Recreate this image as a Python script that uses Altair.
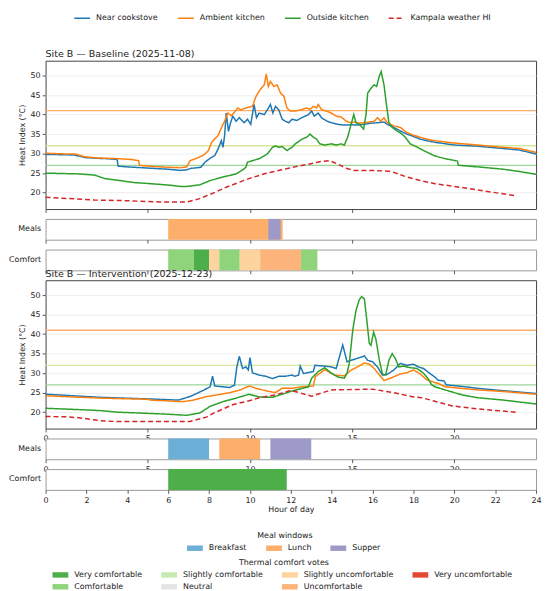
import altair as alt
import pandas as pd

# ---------------- series ----------------
SERIES = ["Near cookstove", "Ambient kitchen", "Outside kitchen", "Kampala weather HI"]
SERIES_COLORS = ["#1f77b4", "#ff7f0e", "#2ca02c", "#d62728"]
SERIES_DASH = [[1, 0], [1, 0], [1, 0], [5, 3]]

# Baseline (2025-11-08): (hour, heat index)
near_b = [(0, 29.8), (1.0, 29.7), (1.45, 29.6), (1.9, 29.0), (2.5, 28.8), (3.0, 28.7), (3.5, 28.5),
          (3.55, 26.8), (4.0, 26.6), (5.0, 26.3), (6.0, 26.0), (6.6, 25.7), (6.9, 25.85), (7.1, 26.2),
          (7.6, 26.5), (7.8, 27.8), (8.05, 28.8), (8.28, 29.5), (8.44, 31.2), (8.6, 33.3), (8.68, 31.6),
          (8.76, 34.6), (8.84, 40.4), (8.95, 35.7), (9.05, 37.9), (9.16, 39.6), (9.32, 38.3), (9.48, 39.2),
          (9.72, 37.9), (9.88, 38.8), (10.04, 37.5), (10.2, 42.6), (10.32, 39.2), (10.45, 40.4), (10.7, 40.0),
          (10.85, 41.2), (11.0, 42.6), (11.12, 40.4), (11.25, 42.1), (11.41, 41.2), (11.58, 38.8),
          (11.73, 38.3), (11.9, 37.9), (12.05, 38.8), (12.3, 38.5), (12.54, 39.2), (12.86, 40.0),
          (13.02, 40.9), (13.15, 39.6), (13.34, 40.4), (13.5, 39.2), (13.74, 38.4), (13.98, 37.9),
          (14.3, 37.5), (14.62, 37.3), (14.95, 37.4), (15.27, 37.3), (15.6, 37.5), (15.92, 37.8),
          (16.24, 37.9), (16.56, 38.1), (16.72, 37.5), (17.04, 36.7), (17.36, 35.8), (17.68, 35.0),
          (18.0, 34.4), (18.33, 33.7), (18.65, 33.3), (19.05, 32.9), (20.0, 32.2), (21.15, 31.9),
          (22.4, 31.3), (23.2, 30.9), (24.0, 29.9)]
amb_b = [(0, 30.1), (1.0, 29.9), (1.45, 29.9), (1.9, 29.2), (2.5, 28.9), (3.0, 28.8), (3.5, 28.7),
         (4.2, 28.5), (4.55, 28.2), (4.6, 27.0), (5.0, 26.8), (6.0, 26.5), (6.59, 26.4), (6.91, 26.6),
         (7.07, 28.2), (7.39, 28.8), (7.72, 29.6), (7.96, 30.7), (8.12, 32.8), (8.28, 33.8), (8.44, 34.6),
         (8.6, 36.6), (8.76, 38.3), (8.92, 40.4), (9.08, 39.7), (9.24, 40.6), (9.4, 41.7), (9.56, 41.2),
         (9.8, 41.7), (10.12, 42.1), (10.3, 44.7), (10.5, 46.4), (10.7, 47.6), (10.8, 50.4), (10.9, 47.2),
         (11.0, 48.5), (11.17, 47.2), (11.33, 47.6), (11.5, 45.5), (11.66, 44.7), (11.81, 41.7),
         (11.97, 40.9), (12.22, 40.9), (12.54, 41.3), (12.78, 41.7), (12.94, 41.3), (13.1, 42.1),
         (13.26, 41.7), (13.34, 42.6), (13.5, 41.3), (13.74, 40.9), (13.98, 40.4), (14.22, 39.6),
         (14.46, 39.4), (14.71, 38.3), (14.95, 37.9), (15.11, 38.1), (15.35, 37.8), (15.6, 37.9),
         (15.84, 38.1), (16.08, 38.3), (16.24, 39.2), (16.4, 38.3), (16.56, 39.2), (16.72, 37.9),
         (17.04, 37.1), (17.36, 36.7), (17.68, 35.4), (18.0, 34.7), (18.33, 34.2), (18.65, 33.7),
         (19.05, 33.3), (20.0, 32.7), (21.15, 32.2), (22.4, 31.6), (23.2, 31.3), (24.0, 30.3)]
out_b = [(0, 25.0), (1.6, 24.8), (2.4, 24.5), (2.9, 23.6), (3.5, 23.2), (4.3, 22.6), (5.14, 22.3),
         (6.1, 21.9), (6.6, 21.6), (6.91, 21.6), (7.55, 22.0), (8.05, 23.1), (8.68, 24.0), (9.32, 24.8),
         (9.72, 26.1), (9.8, 26.5), (9.88, 27.8), (10.2, 28.3), (10.5, 28.8), (10.85, 29.9), (11.1, 31.6),
         (11.25, 32.0), (11.41, 31.6), (11.58, 31.8), (11.81, 30.8), (12.05, 31.6), (12.22, 32.5),
         (12.54, 33.7), (12.78, 34.2), (12.94, 35.0), (13.1, 34.2), (13.26, 33.7), (13.42, 32.5),
         (13.66, 32.2), (13.98, 32.5), (14.22, 32.2), (14.46, 32.5), (14.62, 32.2), (14.78, 34.2),
         (14.95, 37.5), (15.08, 40.0), (15.19, 37.9), (15.35, 37.5), (15.56, 36.3), (15.68, 40.0),
         (15.76, 45.5), (15.92, 46.7), (16.08, 47.6), (16.2, 47.2), (16.32, 49.7), (16.42, 51.0),
         (16.56, 47.6), (16.69, 42.1), (16.8, 37.9), (16.96, 36.7), (17.2, 35.8), (17.44, 35.0),
         (17.6, 34.2), (17.84, 32.5), (18.17, 31.7), (18.49, 30.8), (18.81, 30.0), (19.05, 29.4),
         (19.55, 28.7), (20.15, 28.1), (20.2, 27.0), (21.15, 26.6), (22.4, 26.0), (23.2, 25.4), (24.0, 24.7)]
wx_b = [(0, 18.8), (1.1, 18.5), (2.4, 18.1), (3.5, 18.0), (4.65, 17.8), (5.6, 17.6), (6.9, 17.6),
        (7.5, 18.4), (8.3, 20.1), (8.84, 21.4), (9.1, 21.9), (9.95, 23.6), (10.45, 24.4), (10.75, 24.9),
        (11.5, 25.8), (12.2, 26.6), (12.86, 27.3), (13.5, 28.0), (13.9, 28.2), (14.3, 27.3), (14.78, 26.1),
        (15.11, 25.7), (15.92, 25.7), (16.8, 25.5), (17.04, 25.2), (17.68, 24.0), (18.33, 23.1),
        (19.05, 22.3), (20.0, 21.6), (21.5, 20.4), (23.0, 19.2)]

# Intervention (2025-12-23)
near_i = [(0, 24.6), (2.7, 23.8), (5.0, 23.4), (6.5, 23.1), (7.06, 24.0), (7.24, 24.4), (7.72, 25.6),
          (8.05, 26.5), (8.17, 29.2), (8.28, 26.7), (8.68, 26.5), (9.0, 26.3), (9.24, 26.9), (9.36, 31.6),
          (9.48, 34.3), (9.64, 31.2), (9.8, 31.6), (9.92, 30.8), (10.0, 34.0), (10.12, 30.1), (10.45, 29.5),
          (10.77, 29.2), (11.1, 28.6), (11.41, 29.2), (11.73, 29.2), (12.05, 29.5), (12.2, 29.2),
          (12.38, 29.5), (12.46, 31.8), (12.62, 29.9), (13.1, 30.4), (13.18, 32.0), (13.66, 31.8),
          (13.98, 31.6), (14.22, 31.2), (14.38, 34.2), (14.54, 37.2), (14.65, 35.0), (14.75, 32.9),
          (14.95, 33.3), (15.27, 33.8), (15.6, 34.4), (15.76, 33.3), (16.0, 32.9), (16.24, 31.6),
          (16.48, 29.5), (16.72, 29.7), (17.04, 30.8), (17.36, 32.5), (17.68, 32.0), (18.0, 32.3),
          (18.24, 31.6), (18.49, 31.2), (18.81, 29.9), (19.05, 29.0), (19.2, 28.2), (19.5, 28.0),
          (19.6, 27.0), (20.2, 26.7), (21.15, 26.1), (22.4, 25.5), (24.0, 24.8)]
amb_i = [(0, 24.2), (2.7, 23.6), (5.0, 23.3), (5.14, 23.1), (6.75, 22.7), (7.24, 23.1), (7.88, 24.0),
         (8.37, 24.4), (9.0, 25.0), (9.48, 25.6), (9.96, 26.7), (10.3, 26.1), (10.77, 25.5), (11.25, 25.0),
         (11.57, 26.1), (12.05, 26.1), (12.54, 26.5), (13.1, 26.7), (13.2, 29.1), (13.66, 30.9),
         (14.14, 29.5), (14.62, 29.3), (14.95, 30.8), (15.27, 31.6), (15.6, 32.6), (15.84, 32.3),
         (16.08, 31.2), (16.4, 29.1), (16.56, 28.1), (16.88, 28.7), (17.36, 29.8), (17.68, 30.1),
         (18.0, 30.8), (18.33, 29.8), (18.65, 28.3), (19.05, 27.6), (19.2, 27.4), (19.55, 26.5),
         (21.15, 25.7), (22.4, 25.3), (24.0, 24.6)]
out_i = [(0, 21.0), (1.9, 20.6), (2.7, 20.4), (3.5, 20.0), (5.0, 19.7), (5.9, 19.5), (6.91, 19.2),
         (7.55, 19.8), (8.05, 21.5), (8.68, 22.7), (9.32, 23.6), (9.96, 24.6), (10.45, 23.9), (11.1, 23.8),
         (11.57, 24.6), (12.05, 25.4), (12.54, 26.1), (12.86, 26.5), (13.02, 28.7), (13.34, 30.4),
         (13.66, 31.4), (13.98, 30.0), (14.3, 29.0), (14.62, 28.7), (14.75, 30.0), (14.86, 32.5),
         (15.03, 41.0), (15.19, 46.1), (15.35, 48.8), (15.46, 49.6), (15.6, 49.0), (15.7, 44.4),
         (15.84, 37.6), (15.92, 37.1), (16.05, 40.5), (16.16, 38.8), (16.32, 33.7), (16.48, 29.8),
         (16.64, 29.5), (16.8, 33.3), (16.96, 35.0), (17.12, 33.7), (17.28, 31.6), (17.52, 31.8),
         (17.84, 31.4), (18.17, 31.2), (18.49, 30.0), (18.73, 28.5), (18.89, 27.0), (19.05, 26.5),
         (19.55, 25.7), (20.4, 24.4), (21.15, 23.7), (22.4, 23.1), (24.0, 22.1)]
wx_i = [(0, 18.9), (1.0, 18.8), (1.6, 18.6), (2.7, 17.8), (3.5, 17.6), (5.0, 17.6), (7.06, 17.6),
        (7.9, 18.8), (8.2, 19.7), (9.15, 21.9), (10.1, 23.1), (10.45, 23.7), (11.2, 24.4), (11.57, 24.9),
        (12.0, 25.6), (13.02, 24.1), (13.98, 25.7), (16.0, 25.9), (17.04, 25.0), (18.0, 23.9),
        (18.4, 23.7), (19.05, 22.8), (19.9, 21.6), (21.2, 20.8), (23.0, 20.0)]

# Reference heat-index thresholds
THRESH_LEVELS = [41, 32, 27]
THRESH_NAMES = ["danger", "caution", "comfort"]
THRESH_COLORS = ["#fbad6a", "#d8e79e", "#9cd59a"]

# Meal windows
MEAL_NAMES = ["Breakfast", "Lunch", "Supper"]
MEAL_COLORS = ["#6baed6", "#fdae6b", "#9e9ac8"]
meal_b_start = [6.0, 10.9]
meal_b_end = [11.6, 11.5]
meal_b_name = ["Lunch", "Supper"]
meal_i_start = [6.0, 8.5, 11.0]
meal_i_end = [8.0, 10.5, 13.0]
meal_i_name = ["Breakfast", "Lunch", "Supper"]

# Thermal comfort votes (legend order: column-major as in the figure)
VOTE_ORDER = ["Very comfortable", "Slightly comfortable", "Slightly uncomfortable", "Very uncomfortable",
              "Comfortable", "Neutral", "Uncomfortable"]
VOTE_COLORS = ["#4daf4a", "#c7e9b4", "#fdd49e", "#e34a33", "#8fd47a", "#e5e5e5", "#fdb47a"]
vote_b_start = [6.0, 7.25, 8.0, 8.5, 9.5, 10.5, 12.5]
vote_b_end = [7.25, 8.0, 8.5, 9.5, 10.5, 12.5, 13.3]
vote_b = ["Comfortable", "Very comfortable", "Slightly uncomfortable", "Comfortable",
          "Slightly uncomfortable", "Uncomfortable", "Comfortable"]
vote_i_start = [6.0]
vote_i_end = [11.8]
vote_i = ["Very comfortable"]

W = 496
PH = 150
SH = 21
FONT = "DejaVu Sans"


def series_df(groups):
    rows = []
    for name, pts in zip(SERIES, groups):
        for h, v in pts:
            rows.append({"hour": h, "hi": v, "series": name})
    return pd.DataFrame(rows)


thr_df = pd.DataFrame({"level": THRESH_LEVELS, "name": THRESH_NAMES})
YDOM = [15.8, 53.8]


def panel(title, groups, legend, show_labels, title_offset):
    df = series_df(groups)
    yscale = alt.Scale(domain=YDOM, nice=False, zero=False)
    yaxis = alt.Axis(values=[20, 25, 30, 35, 40, 45, 50], title="Heat Index (°C)", grid=True,
                     domain=False, tickSize=3.5, labelPadding=2, titlePadding=4)
    xscale = alt.Scale(domain=[0, 24], nice=False, zero=False)
    xaxis_p = alt.Axis(values=[0, 5, 10, 15, 20], labels=show_labels, title=None, grid=False,
                       domain=False, tickSize=3.5, labelPadding=3, labelFlush=False)
    rules = alt.Chart(thr_df).mark_rule(strokeWidth=1.4).encode(
        y=alt.Y("level:Q", scale=yscale, axis=yaxis),
        stroke=alt.Stroke("name:N", scale=alt.Scale(domain=THRESH_NAMES, range=THRESH_COLORS), legend=None),
    )
    lines = alt.Chart(df).mark_line(strokeWidth=1.5).encode(
        x=alt.X("hour:Q", scale=xscale, axis=xaxis_p),
        y=alt.Y("hi:Q", scale=yscale, axis=yaxis),
        color=alt.Color("series:N", scale=alt.Scale(domain=SERIES, range=SERIES_COLORS), legend=legend),
        strokeDash=alt.StrokeDash("series:N", scale=alt.Scale(domain=SERIES, range=SERIES_DASH), legend=legend),
    )
    return alt.layer(rules, lines).properties(
        width=W, height=PH,
        title=alt.TitleParams(title, anchor="start", frame="group", offset=title_offset, fontSize=9.6,
                              fontWeight="normal", font=FONT, color="#222"),
    )


def strip(starts, ends, cats, field, row_label, domain, rng, legend, axis):
    df = pd.DataFrame({"start": starts, "end": ends, field: cats, "row": [row_label] * len(cats)})
    return alt.Chart(df).mark_rect().encode(
        x=alt.X("start:Q", scale=alt.Scale(domain=[0, 24], nice=False, zero=False), axis=axis),
        x2="end:Q",
        y=alt.Y("row:N", scale=alt.Scale(paddingInner=0, paddingOuter=0),
                axis=alt.Axis(title=None, ticks=False, domain=False, labelPadding=5)),
        color=alt.Color(f"{field}:N", scale=alt.Scale(domain=domain, range=rng), legend=legend),
    ).properties(width=W, height=SH, view=alt.ViewBackground(stroke="#9a9a9a", fill="white"))


def xaxis(labels, values=(0, 5, 10, 15, 20), title=None):
    kw = dict(values=list(values), labels=labels, grid=False, domain=False, tickSize=3.5,
              labelPadding=3, labelFlush=False)
    if title:
        return alt.Axis(title=title, titlePadding=1, **kw)
    return alt.Axis(title=None, **kw)


LINE_SYM = "M-1.6,0H1.6"
series_legend = alt.Legend(orient="none", legendX=31, legendY=-49, direction="horizontal", title=None,
                           symbolType=LINE_SYM, symbolSize=100, symbolStrokeWidth=1.5, labelOffset=8,
                           columnPadding=17)
RECT_SYM = "M-1.6,-0.55H1.6V0.55H-1.6Z"
meal_legend = alt.Legend(orient="none", legendX=146, legendY=95, direction="horizontal",
                         title="Meal windows", titleAnchor="middle", titlePadding=3,
                         symbolType=RECT_SYM, symbolSize=100, symbolStrokeWidth=0, labelOffset=9,
                         columnPadding=19)
vote_legend = alt.Legend(orient="none", legendX=10, legendY=91, direction="horizontal", columns=4,
                         title="Thermal comfort votes", titleAnchor="middle", titlePadding=3,
                         symbolType=RECT_SYM, symbolSize=100, symbolStrokeWidth=0, labelOffset=9,
                         columnPadding=19, rowPadding=3)

top = panel("Site B — Baseline (2025-11-08)", [near_b, amb_b, out_b, wx_b], series_legend, False, -47)
mb = strip(meal_b_start, meal_b_end, meal_b_name, "meal", "Meals", MEAL_NAMES, MEAL_COLORS, None, xaxis(False))
cb = strip(vote_b_start, vote_b_end, vote_b, "vote", "Comfort", VOTE_ORDER, VOTE_COLORS, None, xaxis(False))
bot = panel("Site B — Intervention (2025-12-23)", [near_i, amb_i, out_i, wx_i], None, True, 2)
mi = strip(meal_i_start, meal_i_end, meal_i_name, "meal", "Meals", MEAL_NAMES, MEAL_COLORS, meal_legend, xaxis(True))
ci = strip(vote_i_start, vote_i_end, vote_i, "vote", "Comfort", VOTE_ORDER, VOTE_COLORS, vote_legend,
           xaxis(True, values=range(0, 25, 2), title="Hour of day"))

chart = alt.vconcat(top, mb, cb, bot, mi, ci, spacing=10).properties(
    bounds="flush", padding=0
).resolve_scale(
    color="independent", strokeDash="independent", stroke="independent"
).configure(
    font=FONT
).configure_axis(
    labelFontSize=8, titleFontSize=8, labelColor="#222", titleColor="#222", tickColor="#333",
    tickWidth=0.8, titleFontWeight="normal", gridColor="#e9e9e9", gridWidth=0.8, labelFont=FONT,
    titleFont=FONT
).configure_view(
    stroke="#444", strokeWidth=1, fill="white"
).configure_legend(
    labelFontSize=8, titleFontSize=8, titleFontWeight="normal", labelColor="#222", titleColor="#222",
    labelFont=FONT, titleFont=FONT
)

chart.save("out.html", embed_options={"renderer": "svg", "actions": False})
